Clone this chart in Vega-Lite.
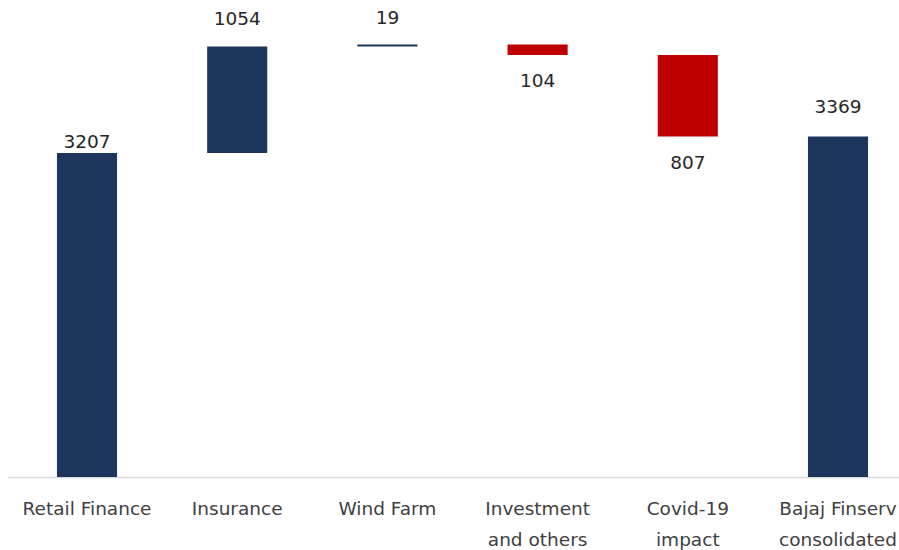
{
  "$schema": "https://vega.github.io/schema/vega-lite/v6.json",
  "autosize": {"type": "none"},
  "width": 891,
  "height": 477,
  "padding": {"left": 8, "top": 0, "right": 0, "bottom": 73},
  "background": "white",
  "config": {"view": {"stroke": null}, "font": "DejaVu Sans"},
  "data": {
    "values": [
      {"category": "Retail Finance", "start": 0, "end": 3207, "value": 3207, "type": "total", "order": 1},
      {"category": "Insurance", "start": 3207, "end": 4261, "value": 1054, "type": "up", "order": 2},
      {"category": "Wind Farm", "start": 4261, "end": 4280, "value": 19, "type": "up", "order": 3},
      {"category": "Investment and others", "start": 4280, "end": 4176, "value": 104, "type": "down", "order": 4},
      {"category": "Covid-19 impact", "start": 4176, "end": 3369, "value": 807, "type": "down", "order": 5},
      {"category": "Bajaj Finserv consolidated", "start": 0, "end": 3369, "value": 3369, "type": "total", "order": 6}
    ]
  },
  "encoding": {
    "x": {
      "field": "category",
      "type": "nominal",
      "sort": {"field": "order"},
      "scale": {"paddingInner": 0.6, "paddingOuter": 0.326, "range": [0, 909]},
      "axis": {
        "title": null,
        "labelAngle": 0,
        "ticks": false,
        "domainColor": "#d9d9d9",
        "domainWidth": 1.5,
        "labelColor": "#404040",
        "labelFont": "DejaVu Sans",
        "labelFontSize": 18.5,
        "labelPadding": 31,
        "labelLineHeight": 31,
        "labelBaseline": "middle",
        "labelOverlap": false,
        "labelBound": false,
        "labelExpr": "datum.label == 'Investment and others' ? ['Investment', 'and others'] : datum.label == 'Covid-19 impact' ? ['Covid-19', 'impact'] : datum.label == 'Bajaj Finserv consolidated' ? ['Bajaj Finserv', 'consolidated'] : datum.label"
      }
    }
  },
  "layer": [
    {
      "mark": {"type": "bar"},
      "encoding": {
        "y": {"field": "start", "type": "quantitative", "scale": {"domain": [0, 4721], "nice": false}, "axis": null},
        "y2": {"field": "end"},
        "color": {
          "field": "type",
          "type": "nominal",
          "scale": {"domain": ["total", "up", "down"], "range": ["#1c365e", "#1c365e", "#c00000"]},
          "legend": null
        }
      }
    },
    {
      "transform": [{"filter": "datum.type == 'up'"}],
      "mark": {"type": "text", "fontSize": 18.5, "color": "#262626", "baseline": "middle", "dy": -27},
      "encoding": {
        "y": {"field": "end", "type": "quantitative"},
        "text": {"field": "value", "type": "quantitative", "format": "d"}
      }
    },
    {
      "transform": [{"filter": "datum.category == 'Retail Finance'"}],
      "mark": {"type": "text", "fontSize": 18.5, "color": "#262626", "baseline": "middle", "dy": -11},
      "encoding": {
        "y": {"field": "end", "type": "quantitative"},
        "text": {"field": "value", "type": "quantitative", "format": "d"}
      }
    },
    {
      "transform": [{"filter": "datum.category == 'Bajaj Finserv consolidated'"}],
      "mark": {"type": "text", "fontSize": 18.5, "color": "#262626", "baseline": "middle", "dy": -30},
      "encoding": {
        "y": {"field": "end", "type": "quantitative"},
        "text": {"field": "value", "type": "quantitative", "format": "d"}
      }
    },
    {
      "transform": [{"filter": "datum.type == 'down'"}],
      "mark": {"type": "text", "fontSize": 18.5, "color": "#262626", "baseline": "middle", "dy": 26},
      "encoding": {
        "y": {"field": "end", "type": "quantitative"},
        "text": {"field": "value", "type": "quantitative", "format": "d"}
      }
    }
  ]
}
